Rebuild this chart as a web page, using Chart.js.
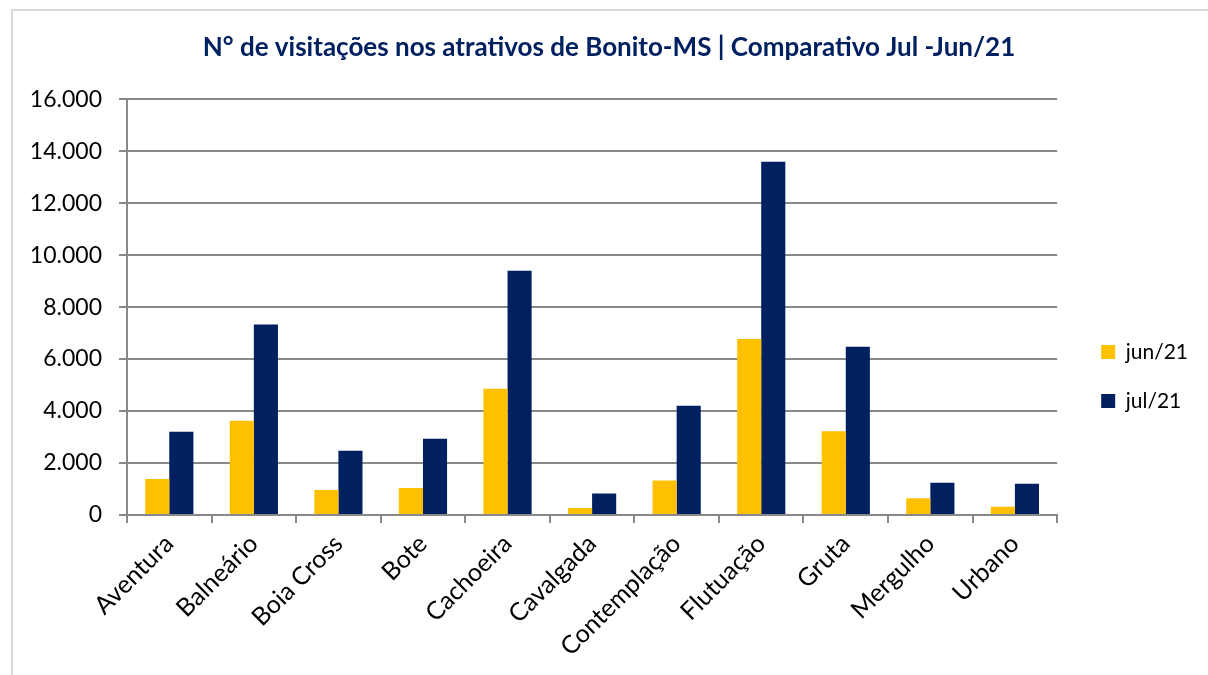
<!DOCTYPE html>
<html>
<head>
<meta charset="utf-8">
<script src="https://cdn.jsdelivr.net/npm/chart.js@4"></script>
<style>
  html, body { margin: 0; padding: 0; background: #fff; }
  #frame {
    position: absolute; left: 11px; top: 9px; width: 1200px; height: 680px;
    border-left: 2px solid #d9d9d9; border-top: 2px solid #d9d9d9;
  }
  #wrap { position: absolute; left: 0; top: 0; width: 1208px; height: 675px; }
</style>
</head>
<body>
<div id="frame"></div>
<div id="wrap"><canvas id="visitasChart"></canvas></div>
<script>
const categorias = ['Aventura', 'Balneário', 'Boia Cross', 'Bote', 'Cachoeira', 'Cavalgada',
    'Contemplação', 'Flutuação', 'Gruta', 'Mergulho', 'Urbano'];
const jun21 = [1390, 3630, 960, 1040, 4860, 270, 1330, 6770, 3220, 640, 320];
const jul21 = [3200, 7330, 2470, 2930, 9400, 830, 4200, 13590, 6470, 1245, 1200];
const ticksY = [0, 2000, 4000, 6000, 8000, 10000, 12000, 14000, 16000];

const fmt = v => v.toLocaleString('pt-BR');

// extra gap between plot and legend, and push legend down a bit
const legendShift = {
    id: 'legendShift',
    afterInit(chart) {
        const lg = chart.legend;
        const origFit = lg.fit;
        lg.fit = function () {
            origFit.call(this);
            this.width += 16;
        };
    },
    afterLayout(chart) {
        chart.legend.left += 16;
        chart.legend.top += 39;
        chart.legend.bottom += 39;
    }
};

new Chart(document.getElementById('visitasChart'), {
    type: 'bar',
    data: {
        labels: categorias,
        datasets: [
            {
                label: 'jun/21',
                data: jun21,
                backgroundColor: '#ffc000',
                barPercentage: 1,
                categoryPercentage: 0.57
            },
            {
                label: 'jul/21',
                data: jul21,
                backgroundColor: '#002060',
                barPercentage: 1,
                categoryPercentage: 0.57
            }
        ]
    },
    options: {
        responsive: true,
        maintainAspectRatio: false,
        animation: false,
        layout: { padding: { left: 20, right: 10, top: 0, bottom: 0 } },
        plugins: {
            title: {
                display: true,
                text: 'N° de visitações nos atrativos de Bonito-MS | Comparativo Jul -Jun/21',
                color: '#002060',
                font: { family: 'Lato', size: 26, weight: 'bold' },
                padding: { top: 32, bottom: 36 }
            },
            legend: {
                position: 'right',
                labels: {
                    color: '#000',
                    font: { family: 'Lato', size: 21 },
                    boxWidth: 14,
                    boxHeight: 14,
                    padding: 28
                }
            },
            tooltip: { enabled: false }
        },
        scales: {
            x: {
                grid: {
                    drawOnChartArea: false,
                    drawTicks: true,
                    tickLength: 8,
                    color: '#898989',
                    lineWidth: 2
                },
                border: { color: '#898989', width: 2 },
                ticks: {
                    color: '#000',
                    font: { family: 'Lato', size: 25 },
                    maxRotation: 45,
                    minRotation: 45,
                    autoSkip: false,
                    padding: 6
                },
                afterFit: s => { s.height = 160; }
            },
            y: {
                min: 0,
                max: 16000,
                afterBuildTicks: s => { s.ticks = ticksY.map(v => ({ value: v })); },
                grid: {
                    color: '#898989',
                    lineWidth: 2,
                    tickLength: 8
                },
                border: { color: '#898989', width: 2 },
                ticks: {
                    color: '#000',
                    font: { family: 'Lato', size: 23 },
                    padding: 17,
                    callback: v => fmt(v)
                },
                afterFit: s => { s.width = 107; }
            }
        }
    },
    plugins: [legendShift]
});
</script>
</body>
</html>
